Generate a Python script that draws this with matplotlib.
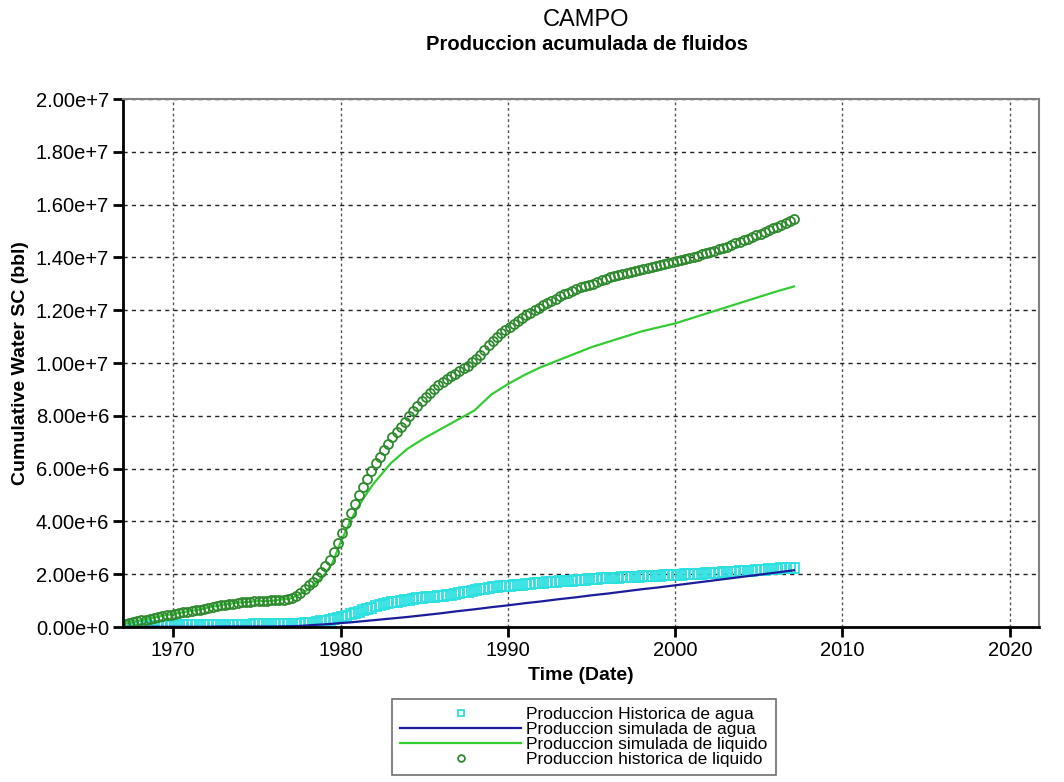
import numpy as np
import matplotlib
matplotlib.use("Agg")
import matplotlib.pyplot as plt
from matplotlib.ticker import FuncFormatter

plt.rcParams['font.family'] = ['Liberation Sans', 'DejaVu Sans']

# historic data, quarterly samples starting 1967.1 (values in millions of bbl)
hist_start = 1967.1
hist_step = 0.25
hist_liquido = [
    0.12, 0.15, 0.18, 0.22, 0.25, 0.28, 0.32, 0.35, 0.38, 0.41, 0.44, 0.47,
    0.50, 0.52, 0.55, 0.57, 0.60, 0.63, 0.66, 0.69, 0.72, 0.75, 0.78, 0.82,
    0.85, 0.87, 0.89, 0.91, 0.93, 0.94, 0.96, 0.97, 0.98, 0.99, 1.00, 1.01,
    1.02, 1.02, 1.03, 1.05, 1.10, 1.18, 1.30, 1.44, 1.58, 1.72, 1.90, 2.10,
    2.30, 2.55, 2.85, 3.20, 3.55, 3.95, 4.30, 4.65, 5.00, 5.30, 5.60, 5.90,
    6.20, 6.45, 6.70, 6.95, 7.18, 7.38, 7.58, 7.78, 7.98, 8.18, 8.38, 8.55,
    8.70, 8.85, 9.00, 9.15, 9.28, 9.40, 9.50, 9.60, 9.70, 9.80, 9.90, 10.02,
    10.15, 10.30, 10.48, 10.68, 10.85, 11.00, 11.12, 11.24, 11.35, 11.47, 11.58, 11.70,
    11.80, 11.90, 12.00, 12.10, 12.20, 12.28, 12.36, 12.44, 12.52, 12.60, 12.67, 12.74,
    12.80, 12.86, 12.91, 12.96, 13.01, 13.07, 13.13, 13.19, 13.24, 13.28, 13.32, 13.36,
    13.40, 13.44, 13.48, 13.52, 13.55, 13.59, 13.63, 13.67, 13.71, 13.75, 13.79, 13.82,
    13.86, 13.90, 13.94, 13.98, 14.02, 14.07, 14.12, 14.16, 14.21, 14.26, 14.31, 14.36,
    14.41, 14.47, 14.53, 14.59, 14.65, 14.71, 14.77, 14.83, 14.89, 14.96, 15.03, 15.10,
    15.17, 15.24, 15.31, 15.38, 15.45,
]
hist_agua = [
    0.02, 0.02, 0.03, 0.03, 0.03, 0.04, 0.04, 0.04, 0.05, 0.05, 0.05, 0.06,
    0.06, 0.06, 0.06, 0.07, 0.07, 0.07, 0.07, 0.08, 0.08, 0.08, 0.08, 0.08,
    0.09, 0.09, 0.09, 0.09, 0.09, 0.09, 0.09, 0.10, 0.10, 0.10, 0.10, 0.10,
    0.10, 0.10, 0.11, 0.11, 0.11, 0.12, 0.13, 0.14, 0.15, 0.17, 0.19, 0.21,
    0.23, 0.26, 0.29, 0.33, 0.38, 0.43, 0.48, 0.53, 0.58, 0.63, 0.68, 0.73,
    0.78, 0.82, 0.86, 0.90, 0.93, 0.96, 0.99, 1.02, 1.04, 1.06, 1.08, 1.10,
    1.12, 1.14, 1.15, 1.17, 1.18, 1.20, 1.23, 1.25, 1.28, 1.31, 1.34, 1.37,
    1.40, 1.43, 1.45, 1.48, 1.50, 1.52, 1.54, 1.56, 1.57, 1.59, 1.60, 1.61,
    1.62, 1.64, 1.65, 1.66, 1.68, 1.69, 1.70, 1.71, 1.73, 1.74, 1.75, 1.76,
    1.77, 1.78, 1.79, 1.80, 1.82, 1.83, 1.84, 1.85, 1.86, 1.86, 1.87, 1.88,
    1.89, 1.90, 1.90, 1.91, 1.92, 1.93, 1.94, 1.95, 1.95, 1.96, 1.96, 1.97,
    1.98, 1.98, 1.99, 2.00, 2.00, 2.01, 2.02, 2.03, 2.04, 2.05, 2.06, 2.07,
    2.08, 2.09, 2.10, 2.11, 2.12, 2.13, 2.14, 2.15, 2.16, 2.17, 2.18, 2.20,
    2.21, 2.22, 2.23, 2.24, 2.25,
]

# simulated data
sim_years = [1967.1, 1968, 1969, 1970, 1971, 1972, 1973, 1974, 1975, 1976,
             1977, 1977.5, 1978, 1978.5, 1979, 1979.5, 1980, 1980.5, 1981, 1981.5,
             1982, 1983, 1984, 1985, 1986, 1987, 1988, 1989, 1990, 1991,
             1992, 1993, 1994, 1995, 1996, 1997, 1998, 1999, 2000, 2001,
             2002, 2003, 2004, 2005, 2006, 2007.1]
sim_liquido = [0.12, 0.25, 0.38, 0.50, 0.60, 0.72, 0.85, 0.93, 0.98, 1.00,
               1.08, 1.22, 1.40, 1.65, 1.95, 2.40, 3.20, 3.90, 4.50, 5.00,
               5.45, 6.20, 6.75, 7.15, 7.50, 7.85, 8.20, 8.80, 9.20, 9.55,
               9.85, 10.10, 10.35, 10.60, 10.80, 11.00, 11.20, 11.35, 11.50, 11.70,
               11.90, 12.10, 12.30, 12.50, 12.70, 12.90]
sim_agua = [0.01, 0.01, 0.01, 0.01, 0.01, 0.01, 0.02, 0.02, 0.02, 0.02,
            0.03, 0.04, 0.06, 0.08, 0.10, 0.12, 0.15, 0.17, 0.20, 0.23,
            0.26, 0.32, 0.38, 0.45, 0.52, 0.60, 0.67, 0.75, 0.82, 0.90,
            0.97, 1.05, 1.12, 1.20, 1.27, 1.35, 1.43, 1.50, 1.58, 1.66,
            1.74, 1.82, 1.90, 1.98, 2.06, 2.15]

labels = ['Produccion Historica de agua', 'Produccion simulada de agua',
          'Produccion simulada de liquido', 'Produccion historica de liquido']

hist_years = hist_start + hist_step * np.arange(len(hist_liquido))
scale = 1e6

fig = plt.figure(figsize=(10.64, 7.82), dpi=100)
ax = fig.add_axes([0.1156, 0.1982, 0.861, 0.6752])

h1, = ax.plot(hist_years, np.array(hist_agua) * scale, linestyle='none', marker='s',
              markersize=6.5, markerfacecolor='none', markeredgecolor='#2ce0e0',
              markeredgewidth=1.3, label=labels[0])
h2, = ax.plot(sim_years, np.array(sim_agua) * scale, color='#1c1c9c', lw=1.6,
              label=labels[1])
h3, = ax.plot(sim_years, np.array(sim_liquido) * scale, color='#33cc33', lw=1.6,
              label=labels[2])
h4, = ax.plot(hist_years, np.array(hist_liquido) * scale, linestyle='none', marker='o',
              markersize=6.5, markerfacecolor='none', markeredgecolor='#2f8a2f',
              markeredgewidth=1.3, label=labels[3])

ax.set_xlim(1967.0, 2021.75)
ax.set_ylim(0, 2e7)
ax.set_xticks([1970, 1980, 1990, 2000, 2010, 2020])
ax.set_yticks(np.arange(0, 2.01e7, 2e6))


def sci(v, pos):
    m, e = f"{v:.2e}".split('e')
    return f"{m}e{int(e):+d}"


ax.yaxis.set_major_formatter(FuncFormatter(sci))
ax.tick_params(axis='both', direction='out', length=7, width=2, labelsize=14.5,
               colors='black', pad=3)

ax.yaxis.grid(True, color='#222222', linestyle=(0, (3, 3)), linewidth=1)
ax.xaxis.grid(True, color='#555555', linestyle=(0, (2, 2)), linewidth=1)
ax.set_axisbelow(True)

for s in ['left', 'bottom']:
    ax.spines[s].set_linewidth(2)
    ax.spines[s].set_color('black')
for s in ['top', 'right']:
    ax.spines[s].set_linewidth(1.5)
    ax.spines[s].set_color('#808080')

ax.set_xlabel('Time (Date)', fontsize=14, fontweight='bold', labelpad=5)
ax.set_ylabel('Cumulative Water SC (bbl)', fontsize=14, fontweight='bold', labelpad=5)

fig.text(0.551, 0.988, 'CAMPO', ha='center', va='top', fontsize=17)
fig.text(0.552, 0.955, 'Produccion acumulada de fluidos', ha='center', va='top',
         fontsize=14.5, fontweight='bold')

leg = fig.legend(handles=[h1, h2, h3, h4], loc='upper left',
                 bbox_to_anchor=(392 / 1064, 1 - 699 / 782), fontsize=12.5,
                 handlelength=7.0, handletextpad=0.29, labelspacing=0.0,
                 borderpad=0.45, borderaxespad=0, numpoints=1, fancybox=False,
                 framealpha=1, edgecolor='#707070', markerscale=0.75)
leg.get_frame().set_linewidth(1.2)

fig.savefig('out.png', dpi=100)
